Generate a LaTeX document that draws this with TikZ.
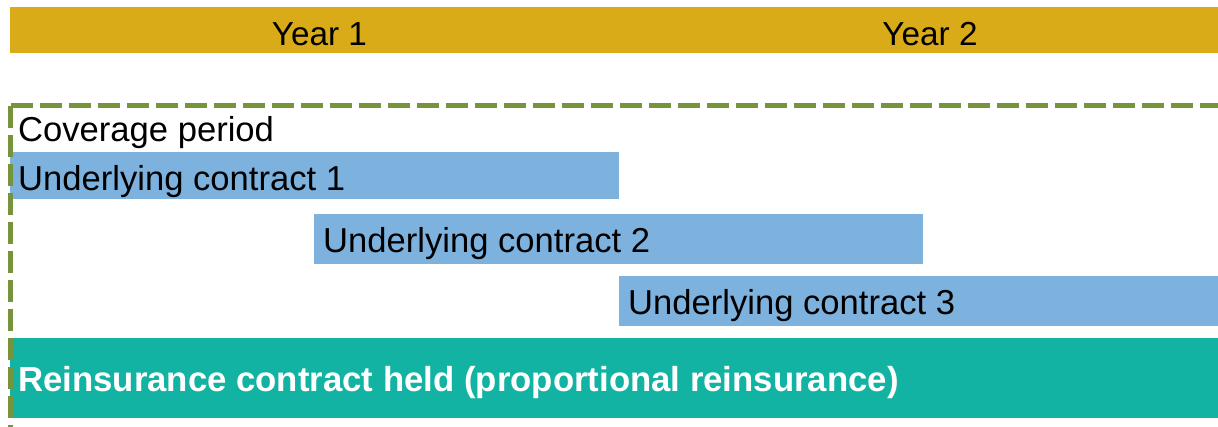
\documentclass[tikz,border=0pt]{standalone}
\usepackage{fontspec}
\setmainfont{Liberation Sans}
\definecolor{yeargold}{HTML}{DAAB18}
\definecolor{contractblue}{HTML}{7DB2DF}
\definecolor{reteal}{HTML}{13B3A3}
\definecolor{periodgreen}{HTML}{77933C}
\tikzset{
  barlabel/.style={anchor=base west, inner sep=0pt, font=\fontsize{34.6}{40}\selectfont},
  yearlabel/.style={anchor=base, inner sep=0pt, font=\fontsize{33.3}{38}\selectfont},
  periodline/.style={draw=periodgreen, line width=5pt, dash pattern=on 22pt off 7pt}
}
\begin{document}
\begin{tikzpicture}[x=1pt, y=-1pt]
  \useasboundingbox (0,0) rectangle (1218,426);

  % timeline header
  \fill[yeargold] (10,7) rectangle (1218,53);
  \node[yearlabel] (year1) at (319.5,45) {Year 1};
  \node[yearlabel] (year2) at (930,45) {Year 2};

  % underlying contracts
  \fill[contractblue] (10,152) rectangle (619,198.5);
  \fill[contractblue] (314,214) rectangle (922.5,263.5);
  \fill[contractblue] (619,276) rectangle (1218,325.5);

  % reinsurance contract held
  \fill[reteal] (10,337.5) rectangle (1218,417.5);

  \node[barlabel] (coverage) at (18,141.5) {Coverage period};
  \node[barlabel] (uc1) at (18,190) {Underlying contract 1};
  \node[barlabel] (uc2) at (323,252.5) {Underlying contract 2};
  \node[barlabel] (uc3) at (628,314.5) {Underlying contract 3};
  \node[barlabel, text=white, font=\fontsize{34.75}{40}\selectfont\bfseries] (reins) at (18,391) {Reinsurance contract held (proportional reinsurance)};

  % coverage period frame
  \coordinate (corner) at (10.8,105.8);
  \coordinate (topend) at (1220,105.8);
  \coordinate (leftend) at (10.8,428);
  \draw[periodline] (corner) -- (topend);
  \draw[periodline] (corner) -- (leftend);
\end{tikzpicture}
\end{document}
